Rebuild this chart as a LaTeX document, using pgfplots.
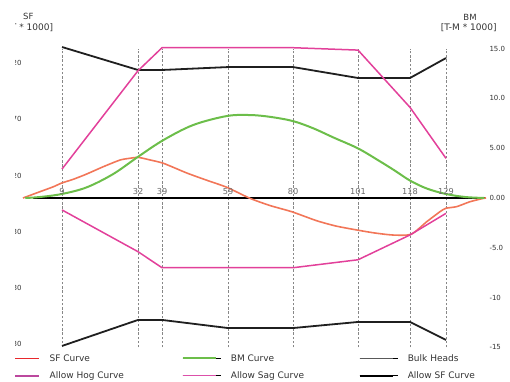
\documentclass[border=0pt]{standalone}
\usepackage{fontspec}
\setmainfont{DejaVu Sans}
\usepackage{pgfplots}
\pgfplotsset{compat=1.18}
\definecolor{sfc}{RGB}{242,118,88}
\definecolor{sfleg}{RGB}{232,40,44}
\definecolor{bmc}{RGB}{108,190,74}
\definecolor{pinkc}{RGB}{226,64,154}
\definecolor{hogleg}{RGB}{188,72,158}
\definecolor{sagleg}{RGB}{220,80,170}
\definecolor{gridc}{RGB}{135,135,135}
\definecolor{txt}{RGB}{51,51,51}
\definecolor{fr}{RGB}{105,105,105}
\begin{document}
\begin{tikzpicture}
\pgfplotsset{
  common/.style={
    width=463pt, height=298.8pt, scale only axis,
    xmin=-3.2, xmax=141.5,
    axis line style={draw=none},
    major tick length=0pt,
    clip=false,
  }
}
% ---------------- SF axis (left) ----------------
\begin{axis}[common, ymin=-132.7, ymax=132.7,
  xtick={9,32.75,40.25,60.875,81.19,101.5,117.75,129},
  xticklabels={},
  xmajorgrids, grid style={gridc, line width=1pt, dash pattern=on 2.4pt off 1.8pt},
  ytick={120,70,20,-30,-80,-130},
  yticklabels={120,70,20,-30,-80,-130},
  yticklabel style={font=\fontsize{7}{8}\selectfont, text=txt, inner sep=1.3pt},
]
% Allow SF curve (upper / lower)
\addplot[black!88, line width=1.8pt, forget plot] coordinates {
 (9,134.1) (32.75,113.7) (40.25,113.7) (60.875,116.3) (81.19,116.3) (101.5,106.6) (117.75,106.6) (129,124.3)};
\addplot[black!88, line width=1.8pt, forget plot] coordinates {
 (9,-131.4) (32.75,-108.3) (40.25,-108.3) (60.875,-115.5) (81.19,-115.5) (101.5,-110.1) (117.75,-110.1) (129,-126.1)};
% zero line
\addplot[black, line width=2pt, forget plot] coordinates {(0,0) (141.2,0)};
% SF curve
\addplot[sfc, line width=1.6pt, smooth, tension=0.4, forget plot] coordinates {
 (-3.2,0) (2.1,5.6) (6.3,10) (8.9,13.3) (12.5,16.6) (16.7,21.3) (21.9,27.8) (27.1,33.7) (30.25,35.3) (32.8,36.1)
 (36.5,33.8) (40.7,30.8) (48.0,22.2) (54.0,16.0) (60.5,9.5) (67.75,-0.3) (74.0,-6.7) (80.8,-12.2)
 (88.6,-20.2) (94.6,-24.9) (101.1,-28.4) (106.8,-31.1) (112.5,-32.9) (118.1,-32.2) (123.0,-21.0)
 (127.1,-12.2) (129,-9.1) (132.3,-7.7) (136.5,-3.3) (140.7,-0.3) (141.5,0)};
\end{axis}
% ---------------- BM axis (right) ----------------
\begin{axis}[common, ymin=-15, ymax=15,
  xtick=\empty,
  ytick={-15,-10,-5,0,5,10,15},
  yticklabels={-15,-10,-5.0,0.00,5.00,10.0,15.0},
  yticklabel pos=right,
  yticklabel style={font=\fontsize{7}{8}\selectfont, text=txt, inner sep=3.3pt},
  legend columns=3,
  legend style={at={(axis description cs:-0.0503,-0.0222)}, anchor=north west,
    draw=none, fill=none, inner sep=0pt, outer sep=0pt, column sep=0pt, row sep=8.7pt,
    font=\fontsize{9}{10}\selectfont, text=txt,
    nodes={inner sep=0pt, text height=7.6pt, text depth=1pt, anchor=west},
    /tikz/every odd column/.append style={column sep=10pt}},
]
% Allowable BM curves
\addplot[pinkc, line width=1.5pt, forget plot] coordinates {
 (9,2.91) (32.75,12.78) (40.25,15.09) (60.875,15.09) (81.19,15.09) (101.5,14.85) (117.75,9.1) (129,3.98)};
\addplot[pinkc, line width=1.5pt, forget plot] coordinates {
 (9,-1.2) (32.75,-5.39) (40.25,-7.0) (60.875,-7.0) (81.19,-7.0) (101.5,-6.2) (117.75,-3.71) (129,-1.54)};
% BM curve
\addplot[bmc, line width=2pt, smooth, tension=0.55, forget plot] coordinates {
 (-2.5,0) (2.1,0.1) (8.9,0.4) (16.7,1.07) (25.0,2.41) (32.8,4.15) (40.7,5.82) (50.0,7.33) (60.5,8.23)
 (67.75,8.33) (74.0,8.15) (81.2,7.72) (87.5,7.0) (94.0,6.05) (101.5,4.98) (108,3.75) (113,2.75)
 (117.75,1.75) (123,0.95) (129,0.4) (135,0.1) (141,0)};
% frame labels
\node[anchor=base, yshift=3.7pt, font=\fontsize{8.2}{9}\selectfont, text=fr] at (axis cs:9,0) {9};
\node[anchor=base, yshift=3.7pt, font=\fontsize{8.2}{9}\selectfont, text=fr] at (axis cs:32.75,0) {32};
\node[anchor=base, yshift=3.7pt, font=\fontsize{8.2}{9}\selectfont, text=fr] at (axis cs:40.25,0) {39};
\node[anchor=base, yshift=3.7pt, font=\fontsize{8.2}{9}\selectfont, text=fr] at (axis cs:60.875,0) {59};
\node[anchor=base, yshift=3.7pt, font=\fontsize{8.2}{9}\selectfont, text=fr] at (axis cs:81.19,0) {80};
\node[anchor=base, yshift=3.7pt, font=\fontsize{8.2}{9}\selectfont, text=fr] at (axis cs:101.5,0) {101};
\node[anchor=base, yshift=3.7pt, font=\fontsize{8.2}{9}\selectfont, text=fr] at (axis cs:117.75,0) {118};
\node[anchor=base, yshift=3.7pt, font=\fontsize{8.2}{9}\selectfont, text=fr] at (axis cs:129,0) {129};
% legend
\addlegendimage{legend image code/.code={\draw[sfleg, line width=1.5pt] (0pt,0pt) -- (38pt,0pt);}}
\addlegendentry{\makebox[132pt][l]{SF Curve}}
\addlegendimage{legend image code/.code={\path (0pt,0pt) -- (38pt,0pt); \draw[bmc, line width=2pt] (0pt,0pt) -- (33pt,0pt);}}
\addlegendentry{\makebox[127.6pt][l]{BM Curve}}
\addlegendimage{legend image code/.code={\path (0pt,0pt) -- (38pt,0pt); \draw[black!65, line width=0.5pt] (0pt,0pt) -- (33pt,0pt);}}
\addlegendentry{Bulk Heads}
\addlegendimage{legend image code/.code={\draw[hogleg, line width=2pt] (0pt,0pt) -- (38pt,0pt);}}
\addlegendentry{\makebox[132pt][l]{Allow Hog Curve}}
\addlegendimage{legend image code/.code={\path (0pt,0pt) -- (38pt,0pt); \draw[sagleg, line width=1pt] (0pt,0pt) -- (33pt,0pt);}}
\addlegendentry{\makebox[127.6pt][l]{Allow Sag Curve}}
\addlegendimage{legend image code/.code={\path (0pt,0pt) -- (38pt,0pt); \draw[black, line width=2.2pt] (0pt,0pt) -- (33pt,0pt);}}
\addlegendentry{Allow SF Curve}
\end{axis}
% axis titles
\node[anchor=base, font=\fontsize{8.5}{9}\selectfont, text=txt] at (5.3pt,327.4pt) {SF};
\node[anchor=base east, inner sep=0pt, font=\fontsize{9}{10}\selectfont, text=txt] at (30.3pt,316.7pt) {[T * 1000]};
\node[anchor=base, font=\fontsize{8.5}{9}\selectfont, text=txt] at (447pt,326.9pt) {BM};
\node[anchor=base, inner sep=0pt, font=\fontsize{9}{10}\selectfont, text=txt] at (445.7pt,316.4pt) {[T-M * 1000]};
% clip the left margin as in the reference
\fill[white] (-40pt,-50pt) rectangle (-7.5pt,360pt);
\pgfresetboundingbox
\path (-23pt,-33.6pt) rectangle (487pt,347.4pt);
\end{tikzpicture}
\end{document}
